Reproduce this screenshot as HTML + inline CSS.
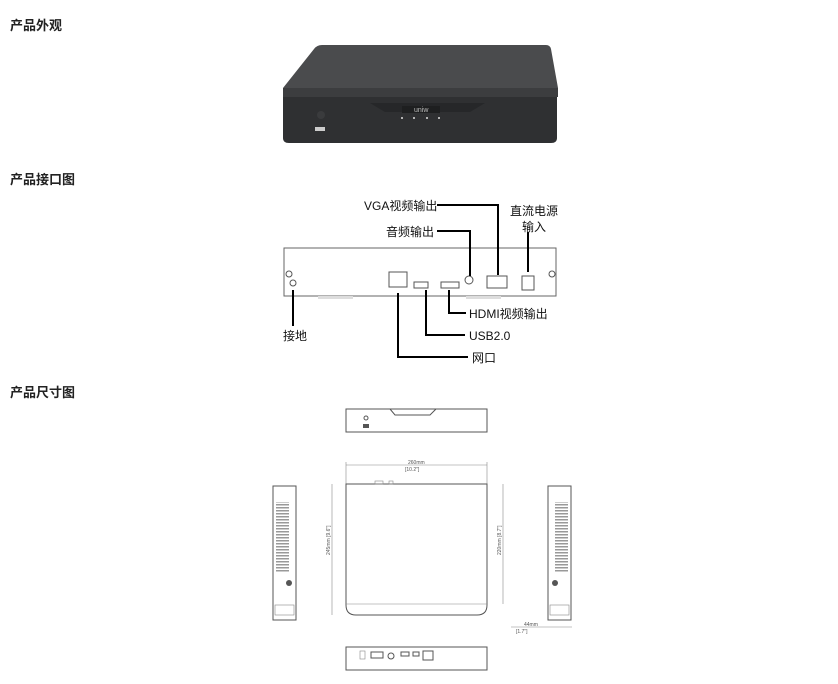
<!DOCTYPE html>
<html><head><meta charset="utf-8"><style>
html,body{margin:0;padding:0;background:#fff;width:838px;height:684px;overflow:hidden}
svg{display:block}
.t{font-family:"Liberation Sans","Noto Sans CJK SC",sans-serif;font-weight:bold;font-size:13px;fill:#222}
.l{font-family:"Liberation Sans","Noto Sans CJK SC",sans-serif;font-size:12px;fill:#111}
.d{fill:none;stroke:#555;stroke-width:1}
.thin{fill:none;stroke:#888;stroke-width:0.6}
</style></head><body>
<svg width="838" height="684" viewBox="0 0 838 684" xmlns="http://www.w3.org/2000/svg">
<defs><pattern id="v" width="4" height="3" patternUnits="userSpaceOnUse"><rect width="4" height="1.5" fill="#999"/></pattern></defs>
<text class="t" x="10" y="30">产品外观</text>
<text class="t" x="10" y="184">产品接口图</text>
<text class="t" x="10" y="397">产品尺寸图</text>

<!-- NVR photo -->
<path d="M322,45 H546 Q550,45 551,49 L558,88 H283 L314,49 Q317,45 322,45 Z" fill="#4a4b4d"/>
<polygon points="283,88 558,88 558,97 283,97" fill="#3c3d3f"/>
<path d="M283,97 H557 V138 Q557,143 551,143 H289 Q283,143 283,138 Z" fill="#2f3032"/>
<path d="M370,103 L385,112 H470 L485,103 Z" fill="#262729"/>
<rect x="402" y="106" width="38" height="7" fill="#1e1f20"/>
<text x="414" y="112" font-family="Liberation Sans,sans-serif" font-size="7" fill="#bbb">uniw</text>
<circle cx="321" cy="115" r="4" fill="#3a3b3d"/>
<rect x="315" y="127" width="10" height="4" fill="#ccc"/>
<circle cx="402" cy="118" r="1" fill="#ddd"/><circle cx="414" cy="118" r="1" fill="#ddd"/><circle cx="427" cy="118" r="1" fill="#ddd"/><circle cx="439" cy="118" r="1" fill="#ddd"/>

<!-- rear panel -->
<rect x="284" y="248" width="272" height="48" fill="#fff" stroke="#666" stroke-width="1"/>
<rect x="318" y="296" width="35" height="3" fill="#ddd"/><rect x="466" y="296" width="35" height="3" fill="#ddd"/>
<circle cx="289" cy="274" r="3" class="d"/><circle cx="552" cy="274" r="3" class="d"/>
<circle cx="293" cy="283" r="3" class="d"/>
<rect x="389" y="272" width="18" height="15" class="d"/>
<rect x="414" y="282" width="14" height="6" class="d"/>
<rect x="441" y="282" width="18" height="6" class="d"/>
<circle cx="469" cy="280" r="4" class="d"/>
<rect x="487" y="276" width="20" height="12" class="d"/>
<rect x="522" y="276" width="12" height="14" class="d"/>
<g fill="none" stroke="#000" stroke-width="2">
<polyline points="437,205 498,205 498,275"/>
<polyline points="528,232 528,272"/>
<polyline points="437,231 470,231 470,276"/>
<polyline points="293,290 293,326"/>
<polyline points="398,293 398,357 468,357"/>
<polyline points="426,290 426,335 465,335"/>
<polyline points="449,290 449,313 466,313"/>
</g>
<text class="l" x="364" y="210">VGA视频输出</text>
<text class="l" x="510" y="215">直流电源</text>
<text class="l" x="522" y="231">输入</text>
<text class="l" x="386" y="236">音频输出</text>
<text class="l" x="283" y="340">接地</text>
<text class="l" x="469" y="318">HDMI视频输出</text>
<text class="l" x="469" y="340">USB2.0</text>
<text class="l" x="472" y="362">网口</text>

<!-- dimension drawings -->
<rect x="346" y="409" width="141" height="23" class="d"/>
<path d="M390,409 L395,415 H430 L436,409" class="d"/>
<circle cx="366" cy="418" r="2" class="d"/><rect x="363" y="424" width="6" height="4" fill="#555"/>
<line x1="346" y1="465" x2="487" y2="465" class="thin"/>
<line x1="346" y1="462" x2="346" y2="484" class="thin"/><line x1="487" y1="462" x2="487" y2="484" class="thin"/>
<text x="408" y="464" font-family="Liberation Sans,sans-serif" font-size="5" fill="#555">260mm</text>
<text x="405" y="471" font-family="Liberation Sans,sans-serif" font-size="5" fill="#555">[10.2"]</text>
<path d="M346,484 H487 V605 Q487,615 477,615 H356 Q346,615 346,605 Z" class="d"/>
<line x1="346" y1="604" x2="487" y2="604" class="thin"/>
<rect x="375" y="481" width="8" height="3" class="thin"/><rect x="389" y="481" width="4" height="3" class="thin"/>
<line x1="332" y1="484" x2="332" y2="615" class="thin"/>
<line x1="503" y1="484" x2="503" y2="604" class="thin"/>
<text x="330" y="555" font-family="Liberation Sans,sans-serif" font-size="5" fill="#555" transform="rotate(-90 330 555)">245mm [9.6"]</text>
<text x="501" y="555" font-family="Liberation Sans,sans-serif" font-size="5" fill="#555" transform="rotate(-90 501 555)">220mm [8.7"]</text>
<rect x="273" y="486" width="23" height="134" class="d"/>
<rect x="276" y="502" width="13" height="70" fill="url(#v)"/>
<circle cx="289" cy="583" r="3" fill="#555"/>
<rect x="275" y="605" width="19" height="10" class="thin"/>
<rect x="548" y="486" width="23" height="134" class="d"/>
<rect x="555" y="502" width="13" height="70" fill="url(#v)"/>
<circle cx="555" cy="583" r="3" fill="#555"/>
<rect x="550" y="605" width="19" height="10" class="thin"/>
<line x1="511" y1="627" x2="572" y2="627" class="thin"/>
<text x="524" y="626" font-family="Liberation Sans,sans-serif" font-size="5" fill="#555">44mm</text>
<text x="516" y="633" font-family="Liberation Sans,sans-serif" font-size="5" fill="#555">[1.7"]</text>
<rect x="346" y="647" width="141" height="23" class="d"/>
<rect x="360" y="651" width="5" height="8" class="thin"/><rect x="371" y="652" width="12" height="6" class="d"/>
<circle cx="391" cy="656" r="3" class="d"/><rect x="401" y="652" width="8" height="4" class="d"/>
<rect x="413" y="652" width="6" height="4" class="d"/><rect x="423" y="651" width="10" height="9" class="d"/>
</svg>
</body></html>
